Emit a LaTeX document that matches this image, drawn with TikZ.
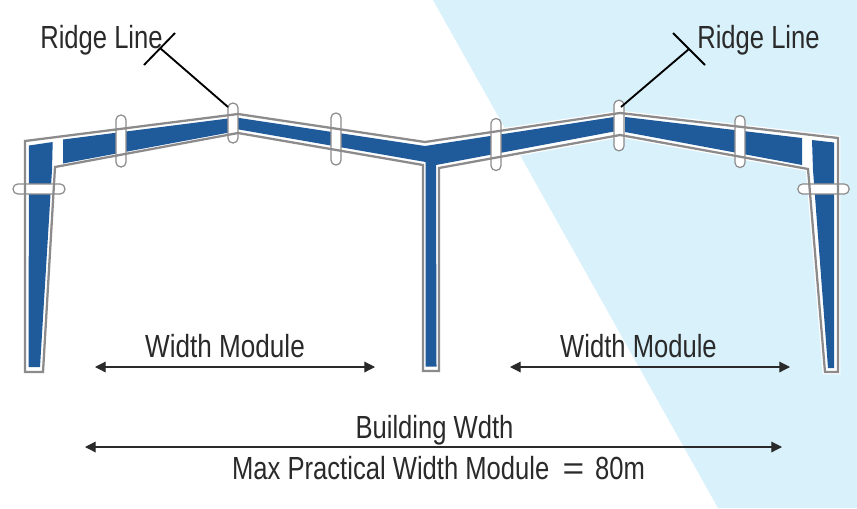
\documentclass[tikz,border=0pt]{standalone}
\usepackage{fontspec}
\setmainfont[FakeStretch=0.8]{Liberation Sans}
\usetikzlibrary{arrows.meta}
\definecolor{bgblue}{HTML}{D8F1FB}
\definecolor{steel}{HTML}{1F5A9B}
\definecolor{edgegray}{HTML}{8C8A8A}
\definecolor{inkdark}{HTML}{2A2A2A}
\tikzset{
  frameline/.style={draw=edgegray,line width=1.7pt,line join=miter},
  framehalo/.style={draw=white,fill=white,line width=3.6pt,line join=miter},
  plate/.style={fill=steel,draw=none},
  vslot/.style={draw=edgegray,fill=white,line width=0.9pt,rounded corners=3.7pt,minimum width=7.6pt,inner sep=0pt,outer sep=0pt},
  hslot/.style={draw=edgegray,fill=white,line width=0.9pt,rounded corners=3.7pt,minimum height=7.6pt,inner sep=0pt,outer sep=0pt},
  leader/.style={draw=black,line width=1.4pt},
  dimline/.style={draw=inkdark,line width=0.9pt,{Triangle[length=8pt,width=8pt]}-{Triangle[length=8pt,width=8pt]}},
  lab/.style={text=inkdark,font=\fontsize{24}{28}\selectfont,inner sep=0pt,outer sep=0pt}
}
\begin{document}
\begin{tikzpicture}[x=0.75pt,y=-0.75pt]
\useasboundingbox (0,0) rectangle (857,508);
\fill[white] (0,0) rectangle (857,508);
\fill[bgblue] (433,0) -- (857,0) -- (857,508) -- (718,508) -- cycle;
% frame silhouette
\def\frameoutline{(25,372) -- (25,141) -- (238,114) -- (425,142) -- (620,113) -- (838,138) -- (838,372) -- (825,372) -- (808,169) -- (620,135) -- (439,168) -- (439,371) -- (423,371) -- (423,165) -- (238,133) -- (55,167) -- (43,372) -- cycle}
\path[framehalo] \frameoutline;
% steel plates
\fill[plate] (29,145.5) -- (52.7,142) -- (52,170) -- (40,367) -- (28.5,367) -- cycle;
\fill[plate] (63,139.5) -- (232,118) -- (232,132) -- (63,163.5) -- cycle;
\fill[plate] (236,117.5) -- (425,146) -- (614,117) -- (614,131.5) -- (436,165) -- (436.5,366.5) -- (425.5,366.5) -- (425.5,162) -- (236,129) -- cycle;
\fill[plate] (625,117) -- (802,138) -- (802,165) -- (625,132) -- cycle;
\fill[plate] (812,140) -- (834,142.5) -- (834,368) -- (828,368) -- (813,170) -- cycle;
% clips
\node[vslot,minimum height=39pt] (clipA) at (121,141) {};
\node[vslot,minimum height=30pt] (clipB) at (233,123) {};
\node[vslot,minimum height=39pt] (clipC) at (336,139) {};
\node[vslot,minimum height=39pt] (clipD) at (496,144.5) {};
\node[vslot,minimum height=38pt] (clipE) at (619,125.5) {};
\node[vslot,minimum height=39pt] (clipF) at (740,141.5) {};
\node[hslot,minimum width=39pt] (clipG) at (39,189) {};
\node[hslot,minimum width=38.5pt] (clipH) at (823.5,189) {};
% outline
\draw[frameline] \frameoutline;
% ridge leaders
\coordinate (tickLa) at (144,65);
\coordinate (tickLb) at (175,33);
\coordinate (tickLm) at (160,48);
\coordinate (tickRa) at (673,33);
\coordinate (tickRb) at (705,65);
\coordinate (tickRm) at (689,49);
\coordinate (clipBtop) at (228,107);
\coordinate (clipEtop) at (621,107);
\draw[leader] (tickLa) -- (tickLb);
\draw[leader] (tickLm) -- (clipBtop);
\draw[leader] (tickRa) -- (tickRb);
\draw[leader] (tickRm) -- (clipEtop);
% labels
\node[lab] (ridgeL) at (101.5,40) {Ridge Line};
\node[lab] (ridgeR) at (758.5,40) {Ridge Line};
\node[lab,xscale=1.02] (modL) at (225,346) {Width Module};
\node[lab] (modR) at (638.5,346) {Width Module};
\node[lab] (bw) at (434.5,430) {Building Wdth};
\node[lab] (maxw) at (438.5,468) {Max Practical Width Module\hspace{10pt}\scalebox{1.45}[1]{=}\hspace{8pt}80m};
% dimension arrows
\coordinate (a1) at (95,367); \coordinate (a2) at (375,367);
\coordinate (b1) at (510,367); \coordinate (b2) at (790,367);
\coordinate (c1) at (85,447); \coordinate (c2) at (782,447);
\draw[dimline] (a1) -- (a2);
\draw[dimline] (b1) -- (b2);
\draw[dimline] (c1) -- (c2);
\end{tikzpicture}
\end{document}
